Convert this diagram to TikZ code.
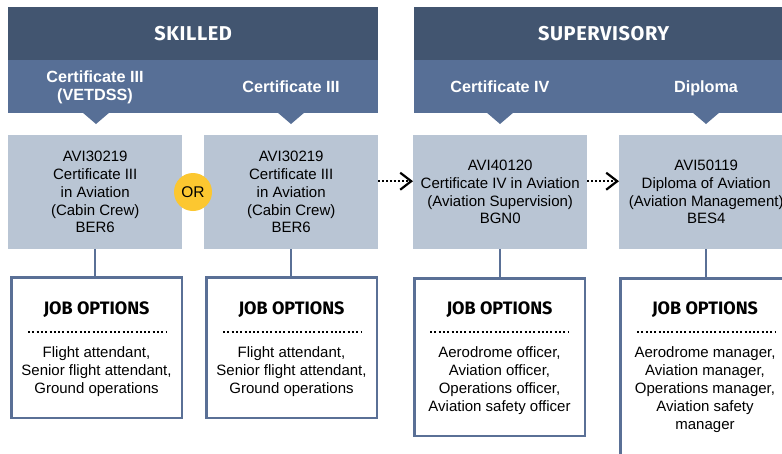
\documentclass[tikz,border=0pt]{standalone}
\usepackage{fontspec}
\setmainfont{Liberation Sans}
\newfontfamily\headfont{Fira Sans}
\newfontfamily\hdrfont{Fira Sans}[LetterSpace=3]
\usetikzlibrary{arrows.meta}
\definecolor{hdark}{HTML}{425570}
\definecolor{bmid}{HTML}{576F96}
\definecolor{qlight}{HTML}{B9C5D4}
\definecolor{jborder}{HTML}{5A7096}
\definecolor{oryellow}{HTML}{FCC730}
\begin{document}
\begin{tikzpicture}[x=1pt,y=-1pt,
  hdr/.style={fill=hdark, minimum width=#1, minimum height=53pt, inner sep=0pt, anchor=north west, text=white, font=\hdrfont\bfseries\fontsize{20}{22}\selectfont},
  band/.style={fill=bmid, minimum width=#1, minimum height=53pt, inner sep=0pt, anchor=north west},
  bandlbl/.style={text=white, align=center, inner sep=0pt, font=\bfseries\fontsize{16.2}{18.3}\selectfont},
  qual/.style={fill=qlight, minimum width=174pt, minimum height=114pt, inner sep=0pt, anchor=north west, align=center, font=\fontsize{15}{17.75}\selectfont},
  orc/.style={circle, fill=oryellow, minimum size=38pt, inner sep=0pt, font=\fontsize{15.5}{18}\selectfont},
  darr/.style={line width=2pt, dash pattern=on 2pt off 2pt, -{Straight Barb[length=11pt,width=17pt,line width=2.2pt]}},
  job/.style={draw=jborder, line width=2.5pt, fill=white, inner sep=0pt},
  conn/.style={draw=jborder, line width=2.5pt},
  jtitle/.style={inner sep=0pt, font=\headfont\bfseries\fontsize{18}{20}\selectfont},
  sepdots/.style={line width=2pt, dash pattern=on 2pt off 2.3pt},
  jtext/.style={inner sep=0pt, anchor=north, align=center, font=\fontsize{15}{18}\selectfont}
]
\useasboundingbox (0,0) rectangle (782,453);
\clip (0,0) rectangle (782,453);
\fill[white] (0,0) rectangle (782,453);

% headers
\node[hdr=370pt] (skilled) at (8,7) {SKILLED};
\node[band=370pt] (bandA) at (8,60) {};
\node[hdr=379pt] (super) at (414,7) {SUPERVISORY};
\node[band=379pt] (bandB) at (414,60) {};
\node[bandlbl] (l1) at (95,87.5) {Certificate III\\(VETDSS)};
\node[bandlbl, anchor=base] (l2) at (291,92.5) {Certificate III};
\node[bandlbl, anchor=base] (l3) at (500,92.5) {Certificate IV};
\node[bandlbl, anchor=base] (l4) at (706,92.5) {Diploma};
\foreach \x in {96,291,500,706}
  \fill[bmid] (\x-14,112) -- (\x+14,112) -- (\x,124) -- cycle;

% qualification boxes
\node[qual] (q1) at (8,135) {AVI30219\\Certificate III\\in Aviation\\(Cabin Crew)\\BER6};
\node[qual] (q2) at (204,135) {AVI30219\\Certificate III\\in Aviation\\(Cabin Crew)\\BER6};
\node[qual] (q3) at (413,135) {AVI40120\\Certificate IV in Aviation\\(Aviation Supervision)\\BGN0};
\node[qual] (q4) at (619,135) {AVI50119\\Diploma of Aviation\\(Aviation Management)\\BES4};
\node[orc] (or) at (193,192) {OR};

\draw[darr] ([yshift=11pt]q2.east) -- ([yshift=11pt]q3.west);
\draw[darr] ([yshift=11pt]q3.east) -- ([yshift=11pt]q4.west);

% job boxes
\node[job, minimum width=170.5pt, minimum height=140.5pt] (j1) at (96.5,347.5) {};
\node[job, minimum width=170.5pt, minimum height=140.5pt] (j2) at (291.5,347.5) {};
\node[job, minimum width=170.5pt, minimum height=157.5pt] (j3) at (499.5,357) {};
\node[job, minimum width=171.5pt, minimum height=192pt] (j4) at (706,374.25) {};

\draw[conn] (q1.south) -- (q1.south |- j1.north);
\draw[conn] (q2.south) -- (q2.south |- j2.north);
\draw[conn] (q3.south) -- (q3.south |- j3.north);
\draw[conn] (q4.south) -- (q4.south |- j4.north);

\node[jtitle] (t1) at (96.5,310) {JOB OPTIONS};
\node[jtitle] (t2) at (291.5,310) {JOB OPTIONS};
\node[jtitle] (t3) at (499.5,310) {JOB OPTIONS};
\node[jtitle] (t4) at (705,310) {JOB OPTIONS};

\draw[sepdots] (28,332) -- (166,332);
\draw[sepdots] (223,332) -- (361,332);
\draw[sepdots] (430,332) -- (569,332);
\draw[sepdots] (637,332) -- (775,332);

\node[jtext] (x1) at (96.5,346) {Flight attendant,\\Senior flight attendant,\\Ground operations};
\node[jtext] (x2) at (291.5,346) {Flight attendant,\\Senior flight attendant,\\Ground operations};
\node[jtext] (x3) at (499.5,346) {Aerodrome officer,\\Aviation officer,\\Operations officer,\\Aviation safety officer};
\node[jtext] (x4) at (705,346) {Aerodrome manager,\\Aviation manager,\\Operations manager,\\Aviation safety\\manager};
\end{tikzpicture}
\end{document}
